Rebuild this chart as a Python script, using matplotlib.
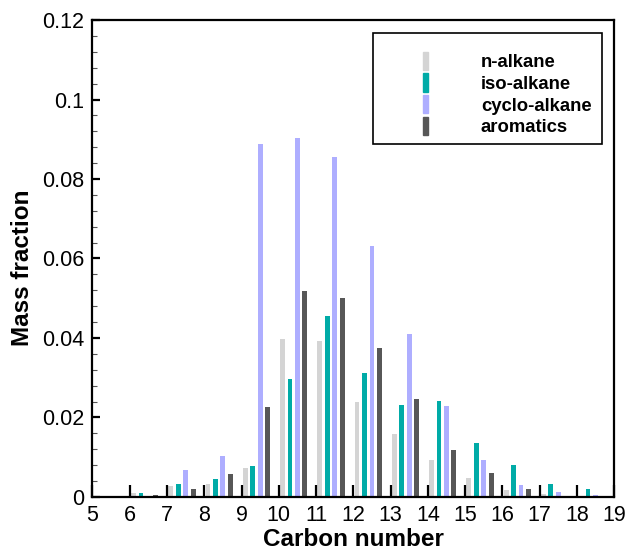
import numpy as np
import matplotlib

matplotlib.use("Agg")
from matplotlib import pyplot as plt
from matplotlib.legend_handler import HandlerPatch
from matplotlib.patches import Rectangle
from matplotlib.ticker import MultipleLocator

# Mass fraction per carbon number
carbon = np.arange(5, 19)
n_alkane = [0.0, 0.0010, 0.0027, 0.0032, 0.0072, 0.0397, 0.0392, 0.0239, 0.0159, 0.0094, 0.0047, 0.0018, 0.0008, 0.0002]
iso_alkane = [0.0, 0.0011, 0.0033, 0.0045, 0.0077, 0.0296, 0.0455, 0.0312, 0.0231, 0.0242, 0.0136, 0.0081, 0.0033, 0.0020]
cyclo_alkane = [0.0, 0.0, 0.0069, 0.0102, 0.0887, 0.0903, 0.0855, 0.0632, 0.0409, 0.0228, 0.0093, 0.0030, 0.0013, 0.0004]
aromatics = [0.0, 0.0005, 0.0021, 0.0059, 0.0226, 0.0518, 0.0500, 0.0376, 0.0247, 0.0118, 0.0060, 0.0020, 0.0003, 0.0]

labels = ["n-alkane", "iso-alkane", "cyclo-alkane", "aromatics"]
colors = ["#d4d4d4", "#00aba7", "#aeaeff", "#575757"]
series = [n_alkane, iso_alkane, cyclo_alkane, aromatics]

plt.rcParams["font.family"] = ["Liberation Sans", "DejaVu Sans"]

fig = plt.figure(figsize=(6.27, 5.53), dpi=100)
ax = fig.add_axes([0.1475, 0.1013, 0.832, 0.8625])

width = 0.13
for i, (values, color, label) in enumerate(zip(series, colors, labels)):
    ax.bar(carbon + 0.1 + 0.2 * i, values, width=width, color=color, linewidth=0)

ax.set_xlim(5, 19)
ax.set_ylim(0, 0.12)
ax.xaxis.set_major_locator(MultipleLocator(1))
ax.yaxis.set_minor_locator(MultipleLocator(0.004))
ax.set_yticks([0, 0.02, 0.04, 0.06, 0.08, 0.1, 0.12])
ax.set_yticklabels(["0", "0.02", "0.04", "0.06", "0.08", "0.1", "0.12"])

for side in ax.spines.values():
    side.set_linewidth(1.6)

ax.tick_params(axis="both", which="major", direction="in", labelsize=15.5, pad=6)
ax.tick_params(axis="x", which="major", length=8.5, width=1.6)
ax.tick_params(axis="y", which="major", length=6, width=1.6)
ax.tick_params(axis="y", which="minor", direction="in", length=3.5, width=0.8, color="#555555")
ax.tick_params(top=False, right=False)

ax.set_xlabel("Carbon number", fontsize=17.5, fontweight="bold", labelpad=1)
ax.set_ylabel("Mass fraction", fontsize=17.5, fontweight="bold")
ax.yaxis.set_label_coords(-0.112, 0.48)


def narrow_bar(legend, orig_handle, xdescent, ydescent, width, height, fontsize):
    w, h = 3.4, 13.0
    return Rectangle((-xdescent + width / 2 - w / 2, -ydescent + height / 2 - h / 2), w, h)


# legend frame drawn separately so the entries can sit lower inside it
ax.add_patch(Rectangle((0.5377, 0.740), 0.4389, 0.2327, transform=ax.transAxes,
                       facecolor="white", edgecolor="black", linewidth=1.2,
                       zorder=4, clip_on=False))

proxies = [Rectangle((0, 0), 1, 1, color=c) for c in colors]
leg = ax.legend(
    proxies,
    labels,
    loc="upper left",
    bbox_to_anchor=(0.6028, 0.928),
    prop={"weight": "bold", "size": 13.3},
    frameon=False,
    borderpad=0,
    handlelength=2.0,
    handletextpad=2.0,
    labelspacing=0.25,
    borderaxespad=0,
    handler_map={Rectangle: HandlerPatch(patch_func=narrow_bar)},
)
leg.set_zorder(5)

fig.savefig("out.png", dpi=100)
